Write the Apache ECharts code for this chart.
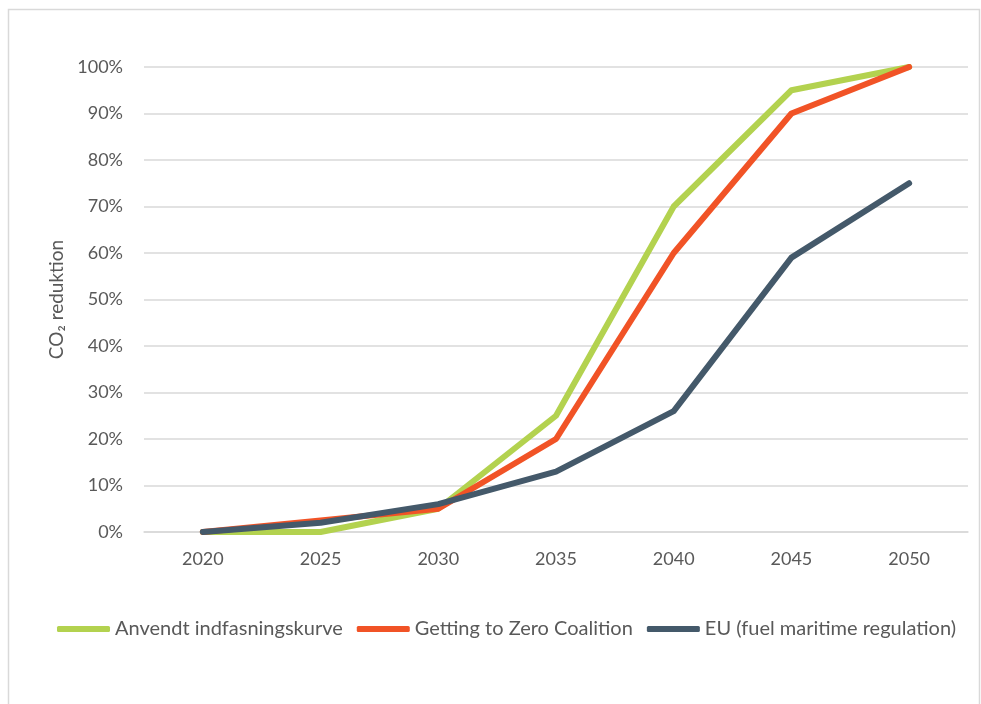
<!DOCTYPE html>
<html>
<head>
<meta charset="utf-8">
<script src="https://cdn.jsdelivr.net/npm/echarts@6/dist/echarts.min.js"></script>
<style>
  html, body { margin: 0; padding: 0; background: #fff; }
  #main { width: 981px; height: 704px; }
</style>
</head>
<body>
<div id="main"></div>
<script>
// data
var years = ['2020', '2025', '2030', '2035', '2040', '2045', '2050'];
var anvendt = [0, 0, 5, 25, 70, 95, 100];
var gettingToZero = [0, 2.5, 5, 20, 60, 90, 100];
var euFuel = [0, 2, 6, 13, 26, 59, 75];
var seriesNames = ['Anvendt indfasningskurve', 'Getting to Zero Coalition', 'EU (fuel maritime regulation)'];

var myChart = echarts.init(document.getElementById('main'));

var font = 'Lato';
var txt = '#595959';

function lineSeries(name, data, color) {
    return {
        name: name,
        type: 'line',
        data: data,
        symbol: 'none',
        smooth: false,
        lineStyle: { width: 6, color: color, cap: 'round', join: 'round' },
        itemStyle: { color: color }
    };
}

var option = {
    backgroundColor: '#fff',
    animation: false,
    graphic: [{
        type: 'rect',
        shape: { x: 8.5, y: 9.5, width: 971, height: 720 },
        style: { fill: 'none', stroke: '#d9d9d9', lineWidth: 1.5 }
    }],
    grid: {
        left: 144,
        right: 13,
        top: 67,
        bottom: 172
    },
    legend: {
        left: 52,
        top: 614,
        icon: 'roundRect',
        itemWidth: 53,
        itemHeight: 6,
        itemGap: 14,
        data: seriesNames,
        textStyle: { fontFamily: font, fontSize: 20, color: txt }
    },
    xAxis: {
        type: 'category',
        data: years,
        boundaryGap: true,
        axisLine: { show: true, lineStyle: { color: '#d9d9d9', width: 1.5 } },
        axisTick: { show: false },
        axisLabel: { fontFamily: font, fontSize: 18, color: txt, margin: 18 }
    },
    yAxis: {
        type: 'value',
        min: 0,
        max: 100,
        interval: 10,
        name: 'CO₂ reduktion',
        nameLocation: 'middle',
        nameGap: 74,
        nameTextStyle: { fontFamily: font, fontSize: 19, color: txt },
        axisLine: { show: false },
        axisTick: { show: false },
        splitLine: { lineStyle: { color: '#d9d9d9', width: 1.5 } },
        axisLabel: {
            fontFamily: font, fontSize: 18, color: txt, margin: 21,
            formatter: '{value}%'
        }
    },
    series: [
        lineSeries(seriesNames[0], anvendt, '#b3d24f'),
        lineSeries(seriesNames[1], gettingToZero, '#f15326'),
        lineSeries(seriesNames[2], euFuel, '#44596a')
    ]
};

myChart.setOption(option);
</script>
</body>
</html>
